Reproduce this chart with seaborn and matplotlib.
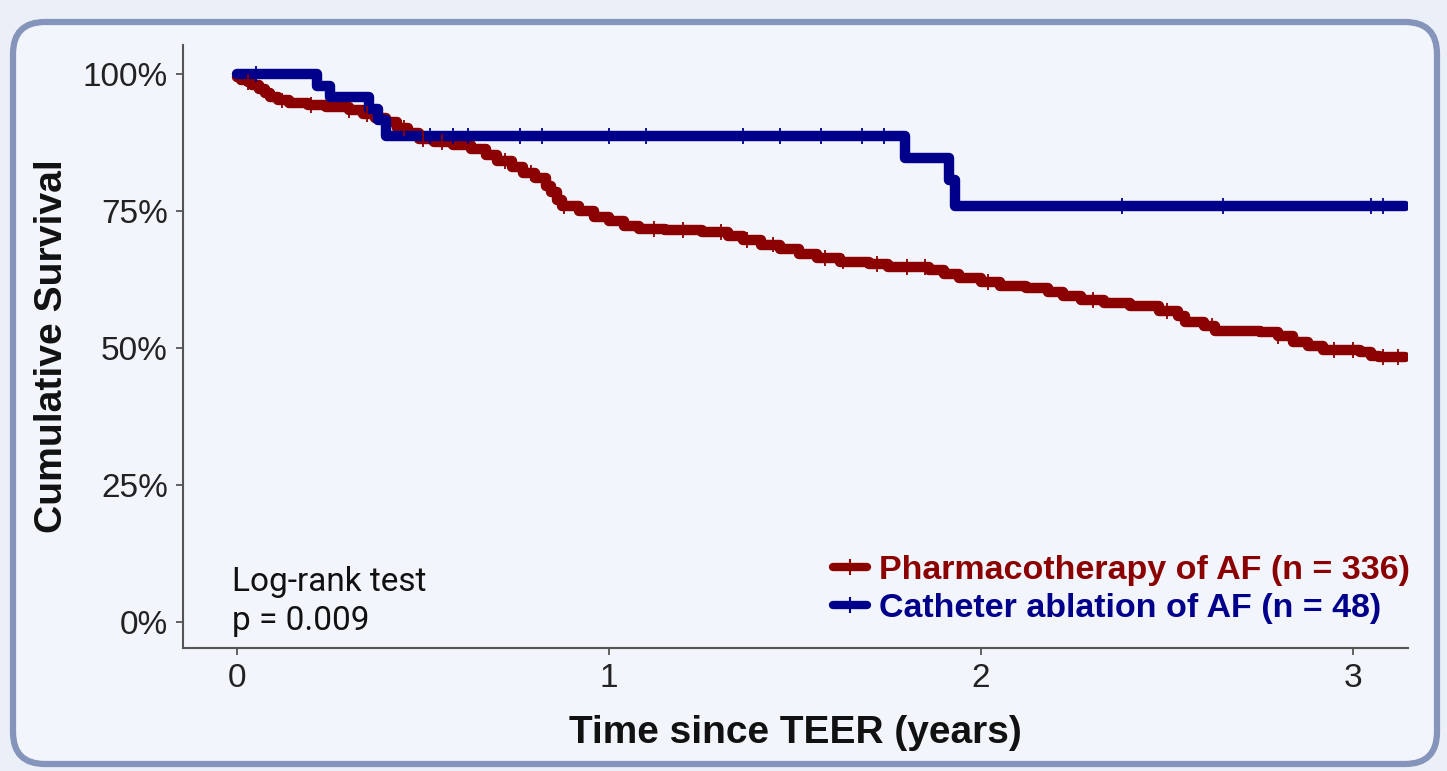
import numpy as np
import pandas as pd
import matplotlib
matplotlib.use("Agg")
import matplotlib.pyplot as plt
import seaborn as sns
from matplotlib.patches import FancyBboxPatch
from matplotlib.lines import Line2D
from matplotlib.transforms import IdentityTransform

# Kaplan-Meier estimates (years since TEER, survival in %)
groups = ["Pharmacotherapy of AF (n = 336)", "Catheter ablation of AF (n = 48)"]
colors = ["#8B0000", "#00008B"]

pharm_time = [0.00, 0.01, 0.03, 0.04, 0.06, 0.075, 0.09, 0.11, 0.14, 0.19, 0.24,
              0.30, 0.34, 0.37, 0.40, 0.43, 0.46, 0.49, 0.53, 0.58, 0.63, 0.67,
              0.70, 0.74, 0.77, 0.80, 0.83, 0.845, 0.86, 0.875, 0.92, 0.96, 1.00,
              1.04, 1.08, 1.15, 1.25, 1.32, 1.36, 1.41, 1.46, 1.51, 1.56, 1.62,
              1.70, 1.75, 1.86, 1.90, 1.94, 2.00, 2.05, 2.12, 2.18, 2.22, 2.27,
              2.33, 2.40, 2.48, 2.53, 2.55, 2.60, 2.63, 2.75, 2.80, 2.84, 2.88,
              2.92, 3.02, 3.05, 3.07, 3.14]
pharm_surv = [99.5, 99.0, 98.6, 98.0, 97.3, 96.5, 95.8, 95.2, 94.8, 94.3, 94.0,
              93.5, 92.8, 92.0, 91.2, 90.2, 89.2, 88.2, 87.6, 87.0, 86.4, 85.3,
              84.2, 83.0, 82.0, 81.0, 79.6, 78.4, 77.0, 76.0, 75.0, 74.0, 73.2,
              72.3, 71.8, 71.5, 71.2, 70.5, 69.7, 68.9, 68.0, 67.2, 66.5, 65.8,
              65.4, 64.8, 64.3, 63.5, 62.8, 62.0, 61.3, 61.0, 60.3, 59.5, 58.8,
              58.2, 57.6, 56.8, 55.8, 54.8, 54.0, 53.2, 53.0, 52.2, 51.2, 50.4,
              49.6, 49.3, 48.6, 48.3, 48.3]

abl_time = [0.00, 0.215, 0.25, 0.355, 0.38, 0.40, 1.795, 1.915, 1.93, 3.14]
abl_surv = [100.0, 97.9, 95.8, 93.7, 91.6, 88.7, 84.7, 80.6, 75.9, 75.9]

# censoring times
pharm_censor = [0.03, 0.12, 0.20, 0.30, 0.35, 0.45, 0.50, 0.55, 0.72, 0.79, 0.88,
                1.12, 1.20, 1.30, 1.37, 1.44, 1.58, 1.63, 1.72, 1.80, 1.85, 2.02,
                2.30, 2.50, 2.62, 2.80, 2.95, 3.00, 3.08, 3.12]
abl_censor = [0.05, 0.52, 0.58, 0.62, 0.76, 0.82, 1.00, 1.10, 1.36, 1.46, 1.57,
              1.68, 1.74, 2.38, 2.65, 3.05, 3.08]

y_ticks = [0, 25, 50, 75, 100]
y_tick_labels = ["0%", "25%", "50%", "75%", "100%"]
x_ticks = [0, 1, 2, 3]

curves = pd.concat([
    pd.DataFrame({"time": pharm_time, "surv": pharm_surv, "group": groups[0]}),
    pd.DataFrame({"time": abl_time, "surv": abl_surv, "group": groups[1]}),
], ignore_index=True)


def step_value(times, survs, t):
    idx = np.searchsorted(times, t, side="right") - 1
    return np.asarray(survs)[idx]


censors = pd.concat([
    pd.DataFrame({"time": pharm_censor,
                  "surv": step_value(pharm_time, pharm_surv, pharm_censor),
                  "group": groups[0]}),
    pd.DataFrame({"time": abl_censor,
                  "surv": step_value(abl_time, abl_surv, abl_censor),
                  "group": groups[1]}),
], ignore_index=True)

sns.set_theme(style="white")
plt.rcParams["font.family"] = ["Liberation Sans", "DejaVu Sans"]

fig = plt.figure(figsize=(14.47, 7.71), dpi=100, facecolor="#EBF0F8")

# rounded panel behind the chart
panel = FancyBboxPatch((13, 7), 1424, 742,
                       boxstyle="round,pad=0,rounding_size=32",
                       transform=IdentityTransform(),
                       facecolor="#F2F5FB", edgecolor="#8594BA",
                       linewidth=4.5, zorder=-10)
fig.add_artist(panel)

ax = fig.add_axes([0.1265, 0.1595, 0.8465, 0.782])
ax.set_facecolor("none")

palette = dict(zip(groups, colors))
sns.lineplot(data=curves, x="time", y="surv", hue="group", palette=palette,
             estimator=None, sort=False, drawstyle="steps-post",
             linewidth=7.5, solid_joinstyle="round", solid_capstyle="round",
             legend=False, ax=ax)
sns.scatterplot(data=censors, x="time", y="surv", hue="group", palette=palette,
                marker="|", s=130, linewidth=1.3, legend=False, ax=ax, zorder=3)

ax.set_xlim(-0.145, 3.148)
ax.set_ylim(-4.74, 105.3)
ax.set_xticks(x_ticks)
ax.set_xticklabels([str(v) for v in x_ticks])
ax.set_yticks(y_ticks)
ax.set_yticklabels(y_tick_labels)

for side in ["top", "right"]:
    ax.spines[side].set_visible(False)
for side in ["left", "bottom"]:
    ax.spines[side].set_color("#555555")
    ax.spines[side].set_linewidth(1.5)
ax.tick_params(axis="both", which="major", length=5, width=1.3, color="#555555",
               labelsize=24, labelcolor="#222222", direction="out", pad=6,
               left=True, bottom=True)

ax.set_xlabel("Time since TEER (years)", fontsize=28, fontweight="bold",
              color="#111111", labelpad=15)
ax.set_ylabel("Cumulative Survival", fontsize=28.2, fontweight="bold",
              color="#111111", labelpad=9)

ax.text(-0.013, 3.7, "Log-rank test\np = 0.009", fontsize=24,
        family=["Roboto", "DejaVu Sans"], color="#111111",
        ha="left", va="center", linespacing=1.28)

handles = [Line2D([0], [0], color=c, linewidth=6, marker="|", markersize=11,
                  markeredgewidth=1.5) for c in colors]
leg = ax.legend(handles, groups, loc="center left", bbox_to_anchor=(0.5306, 0.097),
                frameon=False, borderpad=0, borderaxespad=0, handlelength=1.0,
                handletextpad=0.35, labelspacing=0.22,
                prop={"weight": "bold", "size": 24.5, "family": "Liberation Sans"})
for text, c in zip(leg.get_texts(), colors):
    text.set_color(c)

fig.savefig("out.png", dpi=100, facecolor=fig.get_facecolor())
